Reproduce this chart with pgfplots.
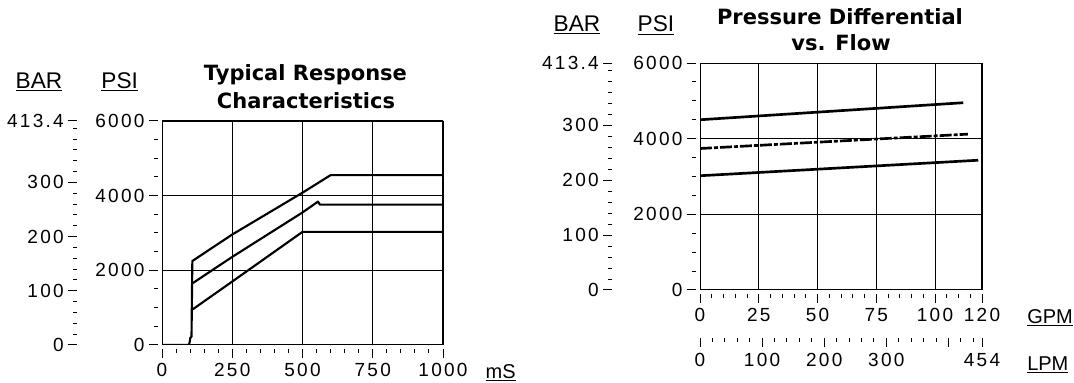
\documentclass[border=0pt]{standalone}
\usepackage{fontspec}
\setmainfont{Liberation Sans}
\newfontfamily\tickfont[LetterSpace=12]{Liberation Sans}
\newfontfamily\titlefont{DejaVu Sans}
\usepackage{pgfplots}
\pgfplotsset{compat=1.18}

\newcommand\tl{\tickfont\fontsize{14.25pt}{14.25pt}\selectfont}
\newcommand\lbl{\fontsize{17pt}{17pt}\selectfont}
\newcommand\lbs{\fontsize{15pt}{15pt}\selectfont}
\newcommand\ttl{\titlefont\bfseries\fontsize{15.75pt}{15.75pt}\selectfont}

\pgfplotsset{
  base/.style={scale only axis, tick align=outside, major tick length=6.75pt, minor tick length=3pt,
    tick style={black, line width=0.75pt}, ticklabel style={font=\tl},
    /pgf/number format/assume math mode=true},
  main/.style={base, axis lines*=left, axis line style={draw=none},
    axis x line shift=3pt, axis y line shift=3pt,
    grid=major, major grid style={black, line width=0.75pt},
    yticklabel style={inner sep=0pt, xshift=-3.2pt},
    xticklabel style={inner sep=0pt, yshift=-3.5pt}},
  barax/.style={base, width=2pt, hide x axis, axis y line*=left, y axis line style={draw=none},
    xmin=0, xmax=1, ymin=0, ymax=413.4,
    ytick={0,100,200,300,413.4}, yticklabels={0,100,200,300,413.4},
    minor ytick={20,40,60,80,120,140,160,180,220,240,260,280,320,340,360,380,400},
    yticklabel style={inner sep=0pt, xshift=-3pt}},
}

\begin{document}
\begin{tikzpicture}
\path[use as bounding box] (0pt,0pt) rectangle (805.5pt,286.5pt);

% ---------- Left chart ----------
\begin{axis}[barax, at={(57.75pt,27.75pt)}, anchor=south west, height=168pt]
\end{axis}

\begin{axis}[main, at={(121.5pt,27.75pt)}, anchor=south west, width=210.75pt, height=168pt,
  xmin=0, xmax=1000, ymin=0, ymax=6000,
  xtick={0,250,500,750,1000}, xticklabels={0,250,500,750,1000},
  minor xtick={50,100,150,200,300,350,400,450,550,600,650,700,800,850,900,950},
  ytick={0,2000,4000,6000}, yticklabels={0,2000,4000,6000},
  minor ytick={500,1000,1500,2500,3000,3500,4500,5000,5500}]
\addplot[line width=1.6pt, line join=round] coordinates {(0,0)(96,0)(99,100)(101,200)(105,220)(107,1600)(108,2250)(250,2960)(500,4080)(600,4550)(1000,4550)};
\addplot[line width=1.6pt, line join=round] coordinates {(108,1650)(250,2360)(500,3550)(555,3840)(562,3760)(1000,3760)};
\addplot[line width=1.6pt, line join=round] coordinates {(108,950)(114,980)(250,1700)(500,3030)(1000,3030)};
\draw[line width=0.9pt] (rel axis cs:0,0) rectangle (rel axis cs:1,1);
\end{axis}

\node[anchor=base, font=\lbl] at (29.25pt,220.3pt) {\underline{BAR}};
\node[anchor=base, font=\lbl] at (89.8pt,220.3pt) {\underline{PSI}};
\node[anchor=base, font=\ttl] at (229.1pt,225.75pt) {Typical Response};
\node[anchor=base, font=\ttl] at (229.5pt,204.75pt) {Characteristics};
\node[anchor=base west, font=\lbs, inner sep=0pt] at (364pt,3pt) {\underline{mS}};

% ---------- Right chart ----------
\begin{axis}[barax, at={(459pt,69pt)}, anchor=south west, height=170.25pt]
\end{axis}

\begin{axis}[main, at={(525pt,69pt)}, anchor=south west, width=211.5pt, height=170.25pt,
  xmin=0, xmax=120, ymin=0, ymax=6000,
  xtick={0,25,50,75,100,120}, xticklabels={0,25,50,75,100,120},
  minor xtick={5,10,15,20,30,35,40,45,55,60,65,70,80,85,90,95,105,110,115},
  ytick={0,2000,4000,6000}, yticklabels={0,2000,4000,6000},
  minor ytick={500,1000,1500,2500,3000,3500,4500,5000,5500}]
\addplot[line width=2pt] coordinates {(0,4500)(112,4950)};
\addplot[line width=2pt, dash pattern=on 9pt off 1.5pt on 3pt off 1.5pt] coordinates {(0,3740)(114,4120)};
\addplot[line width=2pt] coordinates {(0,3020)(118.4,3430)};
\draw[line width=0.9pt] (rel axis cs:0,0) rectangle (rel axis cs:1,1);
\end{axis}

% LPM axis
\begin{axis}[base, at={(525pt,33pt)}, anchor=south west, width=211.5pt, height=2pt,
  hide y axis, axis x line*=bottom, x axis line style={draw=none},
  xmin=0, xmax=454, ymin=0, ymax=1,
  xtick={0,100,200,300,400,454}, xticklabels={0,100,200,300,,454},
  minor xtick={20,40,60,80,120,140,160,180,220,240,260,280,320,340,360,380,420,440},
  xticklabel style={inner sep=0pt, yshift=-4.5pt}]
\end{axis}

\node[anchor=base, font=\lbl] at (432.75pt,262.7pt) {\underline{BAR}};
\node[anchor=base, font=\lbl] at (492pt,262.7pt) {\underline{PSI}};
\node[anchor=base, font=\ttl] at (630pt,268.1pt) {Pressure Differential};
\node[anchor=base, font=\ttl] at (630.75pt,248.8pt) {vs. Flow};
\node[anchor=base west, font=\lbs, inner sep=0pt] at (770.25pt,44.25pt) {\underline{GPM}};
\node[anchor=base west, font=\lbs, inner sep=0pt] at (770.25pt,9pt) {\underline{LPM}};
\end{tikzpicture}
\end{document}
